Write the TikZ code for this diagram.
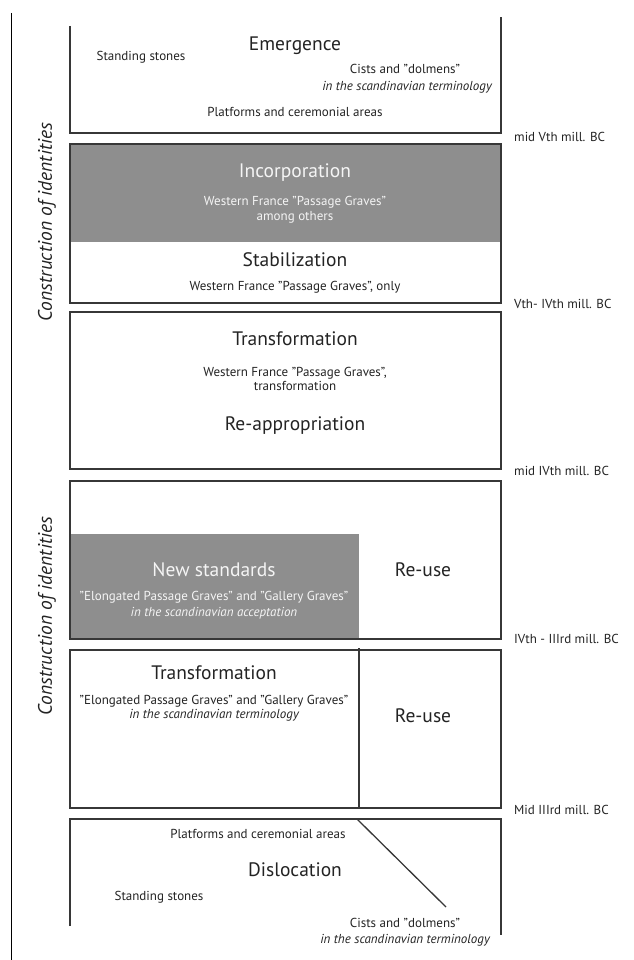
\documentclass[tikz,border=0pt]{standalone}
\usepackage{fontspec}
\setmainfont{PT Sans}
\definecolor{boxgray}{RGB}{142,142,142}
\definecolor{edge}{RGB}{55,55,55}
\definecolor{ink}{RGB}{35,35,35}
\definecolor{paleink}{RGB}{245,245,245}
\tikzset{
  frame/.style={draw=edge, line width=1.3pt},
  title/.style={font=\fontsize{19.5}{22}\selectfont, text=ink, anchor=mid, inner sep=0pt},
  small/.style={font=\fontsize{13}{15}\selectfont, text=ink, anchor=mid, inner sep=0pt},
  smallit/.style={font=\fontsize{13}{15}\selectfont\itshape, text=ink, anchor=mid, inner sep=0pt},
  onGray/.style={text=paleink},
  datelabel/.style={font=\fontsize{13}{15}\selectfont, text=ink, anchor=mid west, inner sep=0pt},
  sidetext/.style={font=\fontsize{19.5}{22}\selectfont\itshape, text=ink, rotate=90, inner sep=0pt}
}
\begin{document}
\begin{tikzpicture}[x=1pt,y=-1pt]
\useasboundingbox (0,0) rectangle (633,960);
% left axis line
\coordinate (axTop) at (11.5,13);
\coordinate (axBot) at (11.5,960);
\draw[black, line width=1.3pt] (axTop) -- (axBot);

% box 1 Emergence (open top)
\draw[frame] (70,26) -- (70,133) -- (501,133) -- (501,17);
% box 2 Incorporation / Stabilization
\fill[boxgray] (70,144) rectangle (501,242);
\draw[frame] (70,144) rectangle (501,303);
% box 3 Transformation
\draw[frame] (70,312) rectangle (501,469);
% box 4 New standards / Re-use
\fill[boxgray] (70,534) rectangle (359,639);
\draw[frame] (70,481) rectangle (501,639);
% box 5 Transformation / Re-use
\draw[frame] (70,650) rectangle (501,808);
\coordinate (divTop) at (359,648);
\coordinate (divBot) at (359,808);
\draw[frame] (divTop) -- (divBot);
% box 6 Dislocation (open bottom)
\draw[frame] (70,926) -- (70,819) -- (501,819) -- (501,935);
\coordinate (diagA) at (357,819);
\coordinate (diagB) at (446,907);
\draw[frame] (diagA) -- (diagB);

% side texts
\node[sidetext] (side1) at (47,222) {Construction of identities};
\node[sidetext] (side2) at (47,616) {Construction of identities};

% box 1 texts
\node[title] (emerg) at (295,48) {Emergence};
\node[small] (stand1) at (141,58) {Standing stones};
\node[small] (cists1) at (405,71) {Cists and "dolmens"};
\node[smallit] (term1) at (407,88) {in the scandinavian terminology};
\node[small] (plat1) at (295,114) {Platforms and ceremonial areas};

% box 2 texts
\node[title,onGray] (incorp) at (295,175) {Incorporation};
\node[small,onGray] (wf1) at (295,203) {Western France "Passage Graves"};
\node[small,onGray] (among) at (295,218) {among others};
\node[title] (stab) at (295,264) {Stabilization};
\node[small] (wf2) at (295,288) {Western France "Passage Graves", only};

% box 3 texts
\node[title] (transf1) at (295,343) {Transformation};
\node[small] (wf3) at (295,374) {Western France "Passage Graves",};
\node[small] (transfw) at (295,388) {transformation};
\node[title] (reapp) at (295,428) {Re-appropriation};

% box 4 texts
\node[title,onGray] (newst) at (214,574) {New standards};
\node[small,onGray] (elong1) at (214,598) {"Elongated Passage Graves" and "Gallery Graves"};
\node[smallit,onGray] (accep) at (214,614) {in the scandinavian acceptation};
\node[title] (reuse1) at (423,574) {Re-use};

% box 5 texts
\node[title] (transf2) at (214,677) {Transformation};
\node[small] (elong2) at (214,702) {"Elongated Passage Graves" and "Gallery Graves"};
\node[smallit] (term2) at (214,716) {in the scandinavian terminology};
\node[title] (reuse2) at (423,720) {Re-use};

% box 6 texts
\node[small] (plat2) at (258,836) {Platforms and ceremonial areas};
\node[title] (disloc) at (295,874) {Dislocation};
\node[small] (stand2) at (159,898) {Standing stones};
\node[small] (cists2) at (405,925) {Cists and "dolmens"};
\node[smallit] (term3) at (405,941) {in the scandinavian terminology};

% date labels
\node[datelabel] (d1) at (514,139) {mid Vth mill. BC};
\node[datelabel] (d2) at (514,306) {Vth- IVth mill. BC};
\node[datelabel] (d3) at (514,473) {mid IVth mill. BC};
\node[datelabel] (d4) at (514,641) {IVth - IIIrd mill. BC};
\node[datelabel] (d5) at (514,812) {Mid IIIrd mill. BC};
\end{tikzpicture}
\end{document}
